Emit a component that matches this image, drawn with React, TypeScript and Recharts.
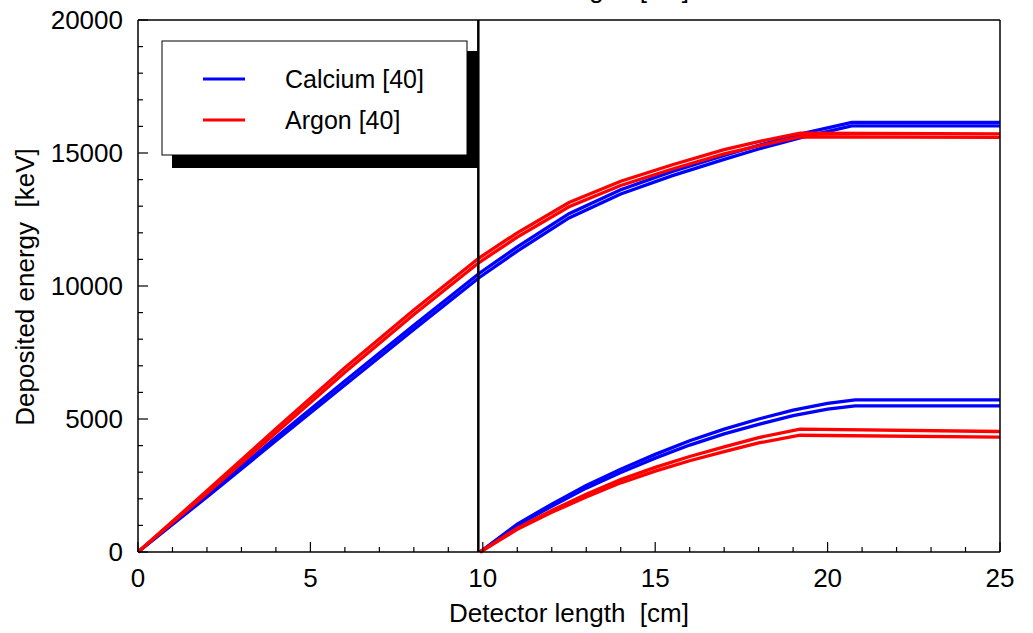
import { Line, LineChart, ReferenceLine, XAxis, YAxis } from 'recharts'

// detector length ticks [cm] and deposited energy ticks [keV]
const lengthTicks = [0, 1, 2, 3, 4, 5, 6, 7, 8, 9, 10, 11, 12, 13, 14, 15, 16, 17, 18, 19, 20, 21, 22, 23, 24, 25]
const energyTicks = [
  0, 1000, 2000, 3000, 4000, 5000, 6000, 7000, 8000, 9000, 10000, 11000, 12000, 13000, 14000, 15000, 16000, 17000,
  18000, 19000, 20000,
]
const seriesNames = ['Calcium [40]', 'Argon [40]']
const boundary = 9.87

// first detector (0 .. ~10 cm), calcium
const caFrontX = [0, 2, 4, 6, 8, 9.9, 11, 12.5, 14, 15.5, 17, 18, 19.2, 20.7, 25]
const caFrontHigh = [0, 2150, 4300, 6430, 8520, 10480, 11470, 12720, 13620, 14310, 14910, 15290, 15710, 16150, 16150]
const caFrontLow = [0, 2070, 4180, 6280, 8370, 10320, 11310, 12560, 13460, 14150, 14760, 15150, 15570, 16020, 16020]

// first detector, argon
const arFrontX = [0, 2, 4, 6, 8, 9.9, 11, 12.5, 14, 15.5, 17, 18, 19.2, 25]
const arFrontHigh = [0, 2300, 4630, 6930, 9100, 11060, 12000, 13140, 13940, 14560, 15130, 15430, 15750, 15720]
const arFrontLow = [0, 2210, 4480, 6760, 8930, 10890, 11840, 12980, 13780, 14400, 14970, 15270, 15610, 15590]

// second detector, calcium
const caRearX = [9.92, 11, 12, 13, 14, 15, 16, 17, 18, 19, 20, 20.8, 25]
const caRearHigh = [0, 1050, 1800, 2500, 3110, 3670, 4180, 4620, 5000, 5330, 5590, 5720, 5720]
const caRearLow = [0, 1000, 1720, 2400, 2990, 3530, 4020, 4440, 4800, 5130, 5370, 5490, 5490]

// second detector, argon
const arRearX = [9.92, 11, 12, 13, 14, 15, 16, 17, 18, 19.2, 25]
const arRearHigh = [0, 900, 1560, 2170, 2720, 3180, 3590, 3950, 4300, 4620, 4530]
const arRearLow = [0, 850, 1490, 2070, 2600, 3040, 3430, 3770, 4100, 4390, 4320]

const toPoints = (xs: number[], ys: number[]) => xs.map((x, i) => ({ x, y: ys[i] }))

const FONT = '"Liberation Sans", Arial, Helvetica, sans-serif'
const BLUE = '#0000ff'
const RED = '#ff0000'

const curves = [
  { key: 'caFH', data: toPoints(caFrontX, caFrontHigh), color: BLUE },
  { key: 'caFL', data: toPoints(caFrontX, caFrontLow), color: BLUE },
  { key: 'caRH', data: toPoints(caRearX, caRearHigh), color: BLUE },
  { key: 'caRL', data: toPoints(caRearX, caRearLow), color: BLUE },
  { key: 'arFH', data: toPoints(arFrontX, arFrontHigh), color: RED },
  { key: 'arFL', data: toPoints(arFrontX, arFrontLow), color: RED },
  { key: 'arRH', data: toPoints(arRearX, arRearHigh), color: RED },
  { key: 'arRL', data: toPoints(arRearX, arRearLow), color: RED },
]

const tickLen = (major: boolean) => (major ? 10 : 5)

// plot box edges in chart pixels
const PLOT = { left: 138, right: 1000, top: 20, bottom: 552 }

function BottomTick({ x, payload }: any) {
  const major = payload.value % 5 === 0
  const y = PLOT.bottom
  return (
    <g>
      <line x1={x} x2={x} y1={y} y2={y - tickLen(major)} stroke="#000" strokeWidth={1.2} />
      {major && (
        <text x={x} y={y + 35} textAnchor="middle" fontSize={26} fontFamily={FONT} fill="#000">
          {payload.value}
        </text>
      )}
    </g>
  )
}

function TopTick({ x, payload }: any) {
  const major = payload.value % 5 === 0
  const y = PLOT.top
  return <line x1={x} x2={x} y1={y} y2={y + tickLen(major)} stroke="#000" strokeWidth={1.2} />
}

function LeftTick({ y, payload }: any) {
  const major = payload.value % 5000 === 0
  const x = PLOT.left
  return (
    <g>
      <line x1={x} x2={x + tickLen(major)} y1={y} y2={y} stroke="#000" strokeWidth={1.2} />
      {major && (
        <text x={x - 15} y={y + 9} textAnchor="end" fontSize={26} fontFamily={FONT} fill="#000">
          {payload.value}
        </text>
      )}
    </g>
  )
}

function RightTick({ y, payload }: any) {
  const major = payload.value % 5000 === 0
  const x = PLOT.right
  return <line x1={x} x2={x - tickLen(major)} y1={y} y2={y} stroke="#000" strokeWidth={1.2} />
}

export default function App() {
  const axisLine = { stroke: '#000', strokeWidth: 1.5 }
  return (
    <div style={{ position: 'absolute', left: 0, top: 0, width: 1033, height: 633, background: '#fff', fontFamily: FONT }}>
      <LineChart width={1033} height={633} margin={{ top: 10, right: 23, bottom: 71, left: 128 }}>
        <XAxis
          xAxisId="bottom"
          type="number"
          dataKey="x"
          domain={[0, 25]}
          ticks={lengthTicks}
          interval={0}
          height={10}
          tickLine={false}
          axisLine={axisLine}
          tick={BottomTick}
        />
        <XAxis
          xAxisId="top"
          orientation="top"
          type="number"
          dataKey="x"
          domain={[0, 25]}
          ticks={lengthTicks}
          interval={0}
          height={10}
          tickLine={false}
          axisLine={axisLine}
          tick={TopTick}
        />
        <YAxis
          yAxisId="left"
          type="number"
          domain={[0, 20000]}
          ticks={energyTicks}
          interval={0}
          width={10}
          tickLine={false}
          axisLine={axisLine}
          tick={LeftTick}
        />
        <YAxis
          yAxisId="right"
          orientation="right"
          type="number"
          domain={[0, 20000]}
          ticks={energyTicks}
          interval={0}
          width={10}
          tickLine={false}
          axisLine={axisLine}
          tick={RightTick}
        />
        {curves.map((c) => (
          <Line
            key={c.key}
            xAxisId="bottom"
            yAxisId="left"
            data={c.data}
            dataKey="y"
            type="linear"
            stroke={c.color}
            strokeWidth={3.3}
            dot={false}
            activeDot={false}
            isAnimationActive={false}
          />
        ))}
        <ReferenceLine xAxisId="bottom" yAxisId="left" x={boundary} stroke="#000" strokeWidth={2.5} />
      </LineChart>

      <svg
        width={1033}
        height={633}
        style={{ position: 'absolute', left: 0, top: 0, pointerEvents: 'none' }}
        fontFamily={FONT}
      >
        {/* top axis title, mostly cut off */}
        <text x={569} y={-2} textAnchor="middle" fontSize={26} style={{ whiteSpace: 'pre' }}>
          Detector length  [cm]
        </text>
        <text x={569} y={622} textAnchor="middle" fontSize={26} style={{ whiteSpace: 'pre' }}>
          Detector length  [cm]
        </text>
        <text transform="translate(34 287) rotate(-90)" textAnchor="middle" fontSize={26} style={{ whiteSpace: 'pre' }}>
          Deposited energy  [keV]
        </text>

        {/* legend */}
        <rect x={172} y={51} width={306} height={117} fill="#000" />
        <rect x={162} y={41} width={305} height={114} fill="#fff" stroke="#000" strokeWidth={1} />
        <line x1={203} x2={245} y1={79} y2={79} stroke={BLUE} strokeWidth={3} />
        <text x={285} y={88} fontSize={25}>
          {seriesNames[0]}
        </text>
        <line x1={203} x2={245} y1={120} y2={120} stroke={RED} strokeWidth={3} />
        <text x={285} y={129} fontSize={25}>
          {seriesNames[1]}
        </text>
      </svg>
    </div>
  )
}
